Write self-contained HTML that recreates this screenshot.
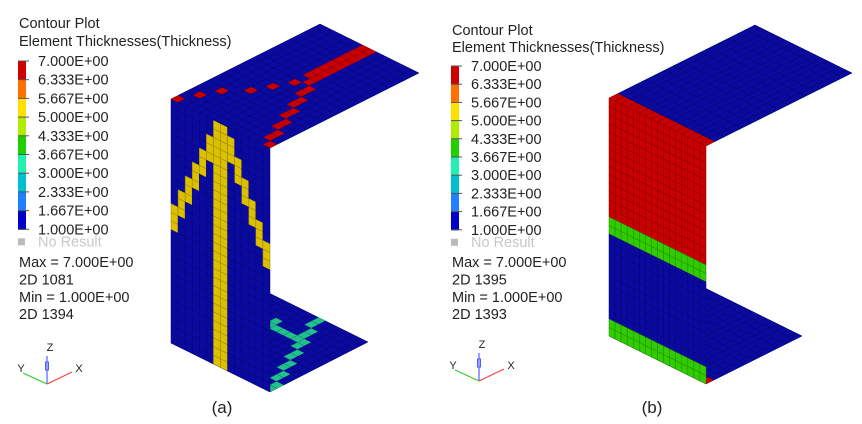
<!DOCTYPE html>
<html><head><meta charset="utf-8"><style>
html,body{margin:0;padding:0;background:#fff;width:862px;height:424px;overflow:hidden}
svg{display:block}
text{font-family:"Liberation Sans","DejaVu Sans",sans-serif;fill:#222}
</style></head><body>
<svg id="s" width="862" height="424" viewBox="0 0 862 424" xmlns="http://www.w3.org/2000/svg">
<g id="mesh"></g>
<g font-size="14.5">
<text x="19" y="28">Contour Plot</text>
<text x="19" y="46">Element Thicknesses(Thickness)</text>
</g>
<g id="lega"></g>
<g id="legb"></g>
<g font-size="14.5">
<text x="452" y="35">Contour Plot</text>
<text x="452" y="52">Element Thicknesses(Thickness)</text>
</g>
<g id="tri"></g>
<text x="222" y="413" font-size="17" text-anchor="middle">(a)</text>
<text x="652" y="413" font-size="17" text-anchor="middle">(b)</text>
</svg>
<script>
var NS="http://www.w3.org/2000/svg";
var mesh=document.getElementById('mesh');
var BL='#0a0aa0',RD='#c80000',YL='#dcc000',GR='#30cc00',TL='#20c090';
var DK={};DK[BL]='#06066e';DK[RD]='#860000';DK[YL]='#908000';DK[GR]='#208800';DK[TL]='#158060';
function poly(g,pts,fill,stroke){var p=document.createElementNS(NS,'polygon');p.setAttribute('points',pts.map(function(q){return q[0].toFixed(2)+','+q[1].toFixed(2)}).join(' '));p.setAttribute('fill',fill);if(stroke){p.setAttribute('stroke',stroke);p.setAttribute('stroke-width','0.5');}g.appendChild(p);}
function grid(o,a,b,NA,NB,colorFn){
 poly(mesh,[o,[o[0]+a[0],o[1]+a[1]],[o[0]+a[0]+b[0],o[1]+a[1]+b[1]],[o[0]+b[0],o[1]+b[1]]],BL);
 for(var i=0;i<NA;i++)for(var j=0;j<NB;j++){
  function P(ii,jj){return [o[0]+a[0]*ii/NA+b[0]*jj/NB,o[1]+a[1]*ii/NA+b[1]*jj/NB];}
  var c=colorFn(i,j);
  poly(mesh,[P(i,j),P(i+1,j),P(i+1,j+1),P(i,j+1)],c,DK[c]);
 }
}
// ---- panel a ----
grid([171,343],[99,49],[98,-50],14,14,function(i,j){
 var c=13-Math.floor(j/2);
 if(i===c)return TL;
 if(j===9&&i>=4&&i<=8)return TL;
 if(j===10&&i===4)return TL;
 return BL;});
grid([171,99],[99,49],[0,244],14,28,function(i,j){
 if(i===6||i===7)return YL;
 if(i>=8){var s=1+2*(i-8);if(j>=s&&j<=s+2)return YL;}
 if(i<=5){var s2=2+2*(5-i);if(j>=s2&&j<=s2+2)return YL;}
 return BL;});
grid([171,99],[99,49],[149,-75],14,20,function(i,j){
 if(j<12){var l=Math.round(j*7/12);var r=13-Math.round(j*6/12);
  if(i===l&&j%2===0)return RD; if(i===r)return RD; return BL;}
 if(i===6||i===7)return RD; return BL;});
// ---- panel b ----
grid([609,336],[97,48],[96,-48],16,12,function(i,j){return (i===15&&j===0)?RD:BL;});
grid([609,98],[97,48],[0,238],16,28,function(i,j){
 if(j<14)return RD; if(j<16)return GR; if(j>=26)return GR; return BL;});
grid([609,98],[97,48],[146,-73],16,16,function(i,j){return j===0?RD:BL;});
var cols=['#d00000','#ff7000','#ffe000','#b0ec00','#20d000','#20f0b0','#00c0d0','#2080ff','#0000c8'];
var vals=['7.000E+00','6.333E+00','5.667E+00','5.000E+00','4.333E+00','3.667E+00','3.000E+00','2.333E+00','1.667E+00','1.000E+00'];
function legend(id,x,y0,dy,info,iy){
 var g=document.getElementById(id),h='';
 for(var k=0;k<9;k++)h+='<rect x="'+x+'" y="'+(y0+k*dy)+'" width="8" height="'+(dy+0.5)+'" fill="'+cols[k]+'"/>';
 for(var k=0;k<10;k++){h+='<line x1="'+x+'" x2="'+(x+11)+'" y1="'+(y0+k*dy)+'" y2="'+(y0+k*dy)+'" stroke="#555" stroke-width="1"/>';
  h+='<text x="'+(x+20)+'" y="'+(y0+k*dy+5)+'" font-size="14.5">'+vals[k]+'</text>';}
 var ny=y0+9*dy;
 h+='<rect x="'+x+'" y="'+(ny+9)+'" width="7" height="7" fill="#bbb"/>';
 h+='<text x="'+(x+20)+'" y="'+(ny+17)+'" font-size="14.5" style="fill:#c8c8c8">No Result</text>';
 for(var k=0;k<4;k++)h+='<text x="'+(x+1)+'" y="'+(iy+k*17.4)+'" font-size="14.5">'+info[k]+'</text>';
 g.innerHTML=h;
}
legend('lega',18,61,18.7,['Max =  7.000E+00','2D 1081','Min =  1.000E+00','2D 1394'],267);
legend('legb',451,66,18.2,['Max =  7.000E+00','2D 1395','Min =  1.000E+00','2D 1393'],267);
function triad(ox,oy){
 return '<line x1="'+ox+'" y1="'+oy+'" x2="'+ox+'" y2="'+(oy-28)+'" stroke="#5060ff" stroke-width="1.2"/>'+
 '<rect x="'+(ox-1.5)+'" y="'+(oy-22)+'" width="3" height="8" fill="none" stroke="#5060ff"/>'+
 '<line x1="'+ox+'" y1="'+oy+'" x2="'+(ox+25)+'" y2="'+(oy-12)+'" stroke="#ff4040" stroke-width="1.2"/>'+
 '<line x1="'+ox+'" y1="'+oy+'" x2="'+(ox-24)+'" y2="'+(oy-11)+'" stroke="#30d030" stroke-width="1.2"/>'+
 '<text x="'+(ox+3)+'" y="'+(oy-33)+'" font-size="11" text-anchor="middle">Z</text>'+
 '<text x="'+(ox+32)+'" y="'+(oy-12)+'" font-size="11" text-anchor="middle">X</text>'+
 '<text x="'+(ox-26)+'" y="'+(oy-12)+'" font-size="11" text-anchor="middle">Y</text>';
}
document.getElementById('tri').innerHTML=triad(47,384)+triad(479,381);
</script>
</body></html>
